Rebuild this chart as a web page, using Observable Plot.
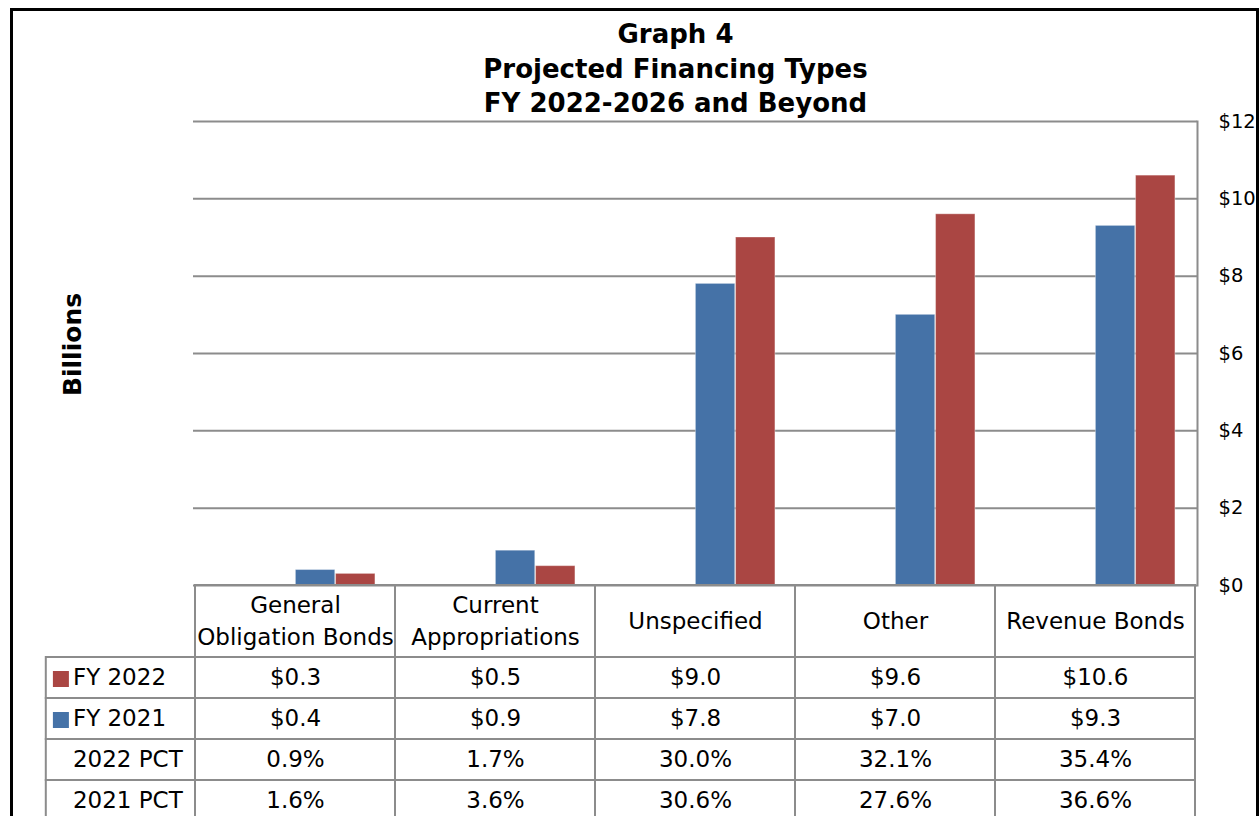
<!DOCTYPE html>
<html>
<head>
<meta charset="utf-8">
<script src="https://cdn.jsdelivr.net/npm/d3@7"></script>
<script src="https://cdn.jsdelivr.net/npm/@observablehq/plot@0.6"></script>
<style>
  html, body { margin: 0; padding: 0; background: white; }
  #wrap { position: relative; width: 1260px; height: 816px; overflow: hidden; font-family: "DejaVu Sans", sans-serif; }
  #border { position: absolute; left: 10px; top: 8px; width: 1243px; height: 820px; border: 3px solid #000; border-bottom: none; box-sizing: content-box; }
  #title { position: absolute; left: 0; width: 1351px; top: 17px; text-align: center; font-weight: bold; font-size: 26px; line-height: 34.5px; color: #000; }
  .layer { position: absolute; left: 0; top: 0; }
</style>
</head>
<body>
<div id="wrap">
  <div id="border"></div>
  <div id="title">Graph 4<br>Projected Financing Types<br>FY 2022-2026 and Beyond</div>
</div>
<script>
const categories = ["General Obligation Bonds", "Current Appropriations", "Unspecified", "Other", "Revenue Bonds"];
const headerLabels = ["General\nObligation Bonds", "Current\nAppropriations", "Unspecified", "Other", "Revenue Bonds"];
const fy2022 = [0.3, 0.5, 9.0, 9.6, 10.6];
const fy2021 = [0.4, 0.9, 7.8, 7.0, 9.3];
const pct2022 = [0.9, 1.7, 30.0, 32.1, 35.4];
const pct2021 = [1.6, 3.6, 30.6, 27.6, 36.6];
const yTicks = [0, 2, 4, 6, 8, 10, 12];
const rowLabels = ["FY 2022", "FY 2021", "2022 PCT", "2021 PCT"];

const BLUE = "#4572A7", RED = "#AA4643", GRID = "#8c8c8c";
const W = 1260, H = 816;
const pLeft = 193, pRight = 1197, pTop = 121, pBottom = 585;
const bw = (pRight - pLeft) / categories.length;

const d2021 = categories.map((c, i) => ({cat: c, value: fy2021[i]}));
const d2022 = categories.map((c, i) => ({cat: c, value: fy2022[i]}));

const wrap = document.getElementById("wrap");

// Main chart
const chart = Plot.plot({
  width: W, height: H,
  marginLeft: pLeft, marginRight: W - pRight, marginTop: pTop, marginBottom: H - pBottom,
  style: {fontFamily: "DejaVu Sans", background: "transparent"},
  x: {type: "band", domain: categories, padding: 0, axis: null},
  y: {domain: [0, 12], axis: null, label: null},
  marks: [
    Plot.gridY(yTicks, {stroke: GRID, strokeOpacity: 1, strokeWidth: 2}),
    Plot.barY(d2021, {x: "cat", y: "value", fill: BLUE, insetLeft: bw * 0.5, insetRight: bw * 0.3, stroke: "white", strokeOpacity: 0.35, strokeWidth: 1}),
    Plot.barY(d2022, {x: "cat", y: "value", fill: RED, insetLeft: bw * 0.7, insetRight: bw * 0.1, stroke: "white", strokeOpacity: 0.35, strokeWidth: 1}),
    Plot.frame({anchor: "right", stroke: GRID, strokeWidth: 2}),
    Plot.axisY(yTicks, {anchor: "right", label: null, tickSize: 0, tickPadding: 21, tickFormat: d => "$" + d, fontSize: 19.5, fill: "#000"}),
    Plot.text(["Billions"], {frameAnchor: "left", textAnchor: "middle", rotate: -90, dx: -121, dy: -9, fontWeight: "bold", fontSize: 25, fill: "#000"})
  ]
});
chart.classList.add("layer");
wrap.appendChild(chart);

// Table header
const header = Plot.plot({
  width: W, height: H, margin: 0,
  style: {fontFamily: "DejaVu Sans", background: "transparent"},
  x: {type: "band", domain: categories, range: [pLeft, pRight], padding: 0, axis: null},
  y: {type: "band", domain: ["head"], range: [pBottom, 657], padding: 0, axis: null},
  marks: [
    Plot.cell(categories, {x: d => d, y: () => "head", fill: "none", stroke: GRID, strokeWidth: 2, inset: 0}),
    Plot.text(categories, {x: d => d, y: () => "head", text: (d, i) => headerLabels[i], fontSize: 23, lineHeight: 1.39, dy: -3, fill: "#000"})
  ]
});
header.classList.add("layer");
wrap.appendChild(header);

// Table body
const cells = [];
rowLabels.forEach((r, j) => {
  categories.forEach((c, i) => {
    let t;
    if (j === 0) t = "$" + fy2022[i].toFixed(1);
    else if (j === 1) t = "$" + fy2021[i].toFixed(1);
    else if (j === 2) t = pct2022[i].toFixed(1) + "%";
    else t = pct2021[i].toFixed(1) + "%";
    cells.push({row: r, cat: c, text: t});
  });
});
const legendRows = [{row: "FY 2022", color: RED}, {row: "FY 2021", color: BLUE}];

const body = Plot.plot({
  width: W, height: H, margin: 0,
  style: {fontFamily: "DejaVu Sans", background: "transparent"},
  x: {type: "band", domain: ["label", ...categories], range: [pLeft - bw, pRight], padding: 0, axis: null},
  y: {type: "band", domain: rowLabels, range: [656.5, 821], padding: 0, axis: null},
  marks: [
    Plot.cell(rowLabels, {x: () => "label", y: d => d, fill: "none", stroke: GRID, strokeWidth: 2, insetLeft: bw - (pLeft - 43), insetRight: 0, insetTop: 0, insetBottom: 0}),
    Plot.cell(cells, {x: "cat", y: "row", fill: "none", stroke: GRID, strokeWidth: 2, inset: 0}),
    Plot.text(cells, {x: "cat", y: "row", text: "text", fontSize: 23, fill: "#000"}),
    Plot.text(rowLabels, {x: () => "label", y: d => d, text: d => d, textAnchor: "start", dx: 70 - (pLeft - bw / 2), fontSize: 23, fill: "#000"}),
    Plot.dot(legendRows, {x: () => "label", y: "row", symbol: "square", r: 16 / Math.sqrt(Math.PI), fill: "color", dx: 59.5 - 1.5 - (pLeft - bw / 2), dy: 1})
  ]
});
body.classList.add("layer");
wrap.appendChild(body);
</script>
</body>
</html>
